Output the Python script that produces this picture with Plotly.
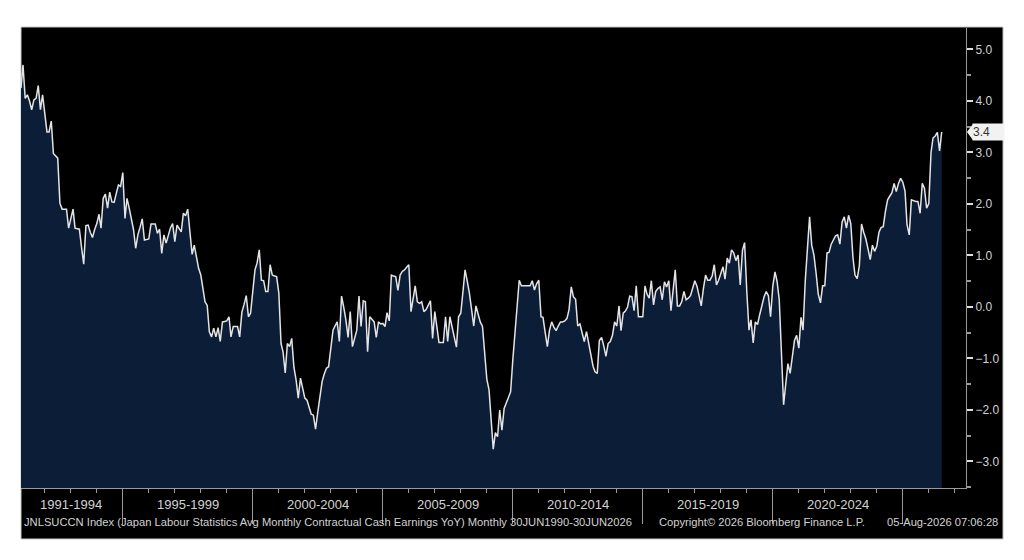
import pandas as pd
import plotly.graph_objects as go

# Japan contractual cash earnings YoY (%), monthly, Jan 1991 - Jun 2026
yoy_1991_1994 = [
    4.25, 4.70, 4.05, 4.12, 4.00, 3.83, 4.02, 4.05, 4.30, 3.83, 4.12, 3.75,
    3.40, 3.40, 3.61, 2.98, 2.93, 2.89, 2.01, 1.90, 1.90, 1.90, 1.53, 1.75,
    1.90, 1.53, 1.52, 1.51, 1.15, 0.83, 1.58, 1.59, 1.45, 1.35, 1.50, 1.62,
    1.80, 1.53, 2.11, 2.19, 1.92, 2.23, 2.04, 2.03, 2.20, 2.37, 2.34, 2.61,
]
yoy_1995_1999 = [
    1.72, 2.11, 1.92, 1.70, 1.50, 1.14, 1.40, 1.55, 1.71, 1.30, 1.31, 1.32,
    1.61, 1.61, 1.61, 1.43, 1.51, 1.04, 1.40, 1.24, 1.40, 1.54, 1.62, 1.27,
    1.59, 1.52, 1.46, 1.82, 1.77, 1.90, 1.45, 1.02, 1.20, 0.95, 0.75, 0.62,
    0.35, 0.10, 0.03, -0.48, -0.58, -0.41, -0.58, -0.40, -0.67, -0.29, -0.28, -0.27,
    -0.19, -0.58, -0.38, -0.38, -0.38, -0.58, -0.10, 0.05, 0.22, -0.19, -0.12, 0.30,
]
yoy_2000_2004 = [
    0.72, 0.85, 1.11, 0.52, 0.51, 0.30, 0.30, 0.82, 0.62, 0.60, 0.59, 0.27,
    -0.71, -0.87, -1.28, -0.71, -0.77, -0.61, -1.17, -1.42, -1.77, -1.38, -1.60, -1.77,
    -1.81, -1.95, -2.08, -2.10, -2.37, -2.05, -1.74, -1.45, -1.30, -1.19, -1.16, -0.80,
    -0.45, -0.37, -0.29, -0.67, 0.21, 0.00, -0.25, -0.59, -0.09, -0.77, -0.60, -0.45,
    0.21, -0.38, 0.12, 0.10, -0.87, -0.19, -0.24, -0.29, -0.59, -0.29, -0.33, -0.32,
]
yoy_2005_2009 = [
    -0.38, -0.11, -0.27, 0.62, 0.60, 0.59, 0.32, 0.62, 0.69, 0.72, 0.77, 0.82,
    -0.09, 0.15, 0.41, 0.10, 0.07, 0.10, -0.09, -0.05, 0.03, 0.12, -0.61, -0.09,
    -0.40, -0.69, -0.69, -0.69, -0.19, -0.67, -0.19, -0.40, -0.60, -0.78, -0.19, -0.12,
    0.30, 0.72, 0.50, 0.27, -0.05, -0.37, 0.02, -0.15, -0.29, -0.38, -0.90, -1.40,
    -1.61, -2.20, -2.76, -2.44, -2.52, -2.00, -2.39, -1.97, -1.87, -1.77, -1.65, -1.03,
]
yoy_2010_2014 = [
    -0.51, 0.10, 0.52, 0.41, 0.41, 0.41, 0.41, 0.41, 0.51, 0.33, 0.45, 0.52,
    -0.19, -0.20, -0.50, -0.77, -0.45, -0.29, -0.39, -0.46, -0.37, -0.29, -0.29, -0.27,
    -0.22, -0.05, 0.39, 0.20, 0.15, -0.37, -0.33, -0.50, -0.67, -0.48, -0.70, -0.90,
    -1.15, -1.26, -1.29, -0.65, -0.59, -0.75, -0.96, -0.71, -0.67, -0.55, -0.29, -0.37,
    0.02, -0.46, -0.12, -0.08, 0.00, 0.21, 0.20, -0.07, 0.41, -0.19, -0.19, -0.19,
]
yoy_2015_2019 = [
    0.41, 0.25, 0.17, 0.51, 0.04, 0.30, 0.36, 0.39, 0.14, 0.49, 0.39, 0.51,
    -0.07, 0.30, 0.72, 0.02, 0.02, 0.10, 0.30, 0.14, 0.17, 0.22, 0.35, 0.51,
    0.40, 0.20, 0.02, 0.35, 0.62, 0.52, 0.52, 0.60, 0.82, 0.43, 0.52, 0.65,
    0.78, 0.54, 0.95, 0.85, 1.11, 1.05, 0.90, 1.01, 0.43, 1.10, 1.25, 0.30,
    -0.45, -0.25, -0.70, -0.29, -0.34, -0.15, 0.06, 0.20, 0.30, 0.22, -0.19, 0.40,
]
yoy_2020_2024 = [
    0.68, 0.50, 0.14, -0.90, -1.90, -1.50, -1.10, -1.29, -0.95, -0.65, -0.55, -0.80,
    -0.20, -0.45, 0.50, 1.20, 1.75, 1.20, 1.01, 0.65, 0.25, 0.08, 0.41, 0.41,
    1.05, 1.06, 1.22, 1.30, 1.38, 1.40, 1.22, 1.65, 1.75, 1.53, 1.78, 1.62,
    0.95, 0.62, 0.55, 0.80, 1.61, 1.45, 1.32, 1.12, 0.92, 1.20, 1.08, 1.18,
    1.45, 1.54, 1.56, 1.85, 2.08, 2.15, 2.22, 2.40, 2.24, 2.40, 2.50, 2.42,
]
yoy_2025_2026 = [
    2.25, 1.60, 1.40, 2.08, 2.06, 2.05, 2.05, 1.82, 2.40, 2.30, 1.92, 2.01,
    3.00, 3.28, 3.32, 3.39, 3.03, 3.40,
]

period_labels = ["1991-1994", "1995-1999", "2000-2004", "2005-2009",
                 "2010-2014", "2015-2019", "2020-2024"]
period_centers = ["1993-01-01", "1997-07-01", "2002-07-01", "2007-07-01",
                  "2012-07-01", "2017-07-01", "2022-07-01"]
period_breaks = ["1995-01-01", "2000-01-01", "2005-01-01", "2010-01-01",
                 "2015-01-01", "2020-01-01", "2025-01-01"]
last_label = "3.4"

values = (yoy_1991_1994 + yoy_1995_1999 + yoy_2000_2004 + yoy_2005_2009
          + yoy_2010_2014 + yoy_2015_2019 + yoy_2020_2024 + yoy_2025_2026)
dates = pd.date_range("1991-01-31", periods=len(values), freq="ME")

y_min, y_max = -3.515, 5.417
x_start = pd.Timestamp("1991-01-31")
x_end = x_start + pd.Timedelta(days=945 / 26 * 365.25)
years = [f"{y}-01-01" for y in range(1992, 2028)]

TXT = "#d2d2d2"
AXIS = "#9a9a9a"
FONT = "Liberation Sans"
FOOT = 11.2

fig = go.Figure()
fig.add_trace(go.Scatter(x=dates, y=[y_min] * len(values), mode="lines",
                         line=dict(width=0), hoverinfo="skip", showlegend=False))
fig.add_trace(go.Scatter(x=dates, y=values, mode="lines", fill="tonexty",
                         fillcolor="#0c1d38", line=dict(color="#e4e4e4", width=1.5),
                         showlegend=False))

# page body has an 8px margin, so the figure is sized to fit inside it
fig.update_layout(
    width=1016, height=552,
    margin=dict(l=13, r=58, t=20, b=72),
    paper_bgcolor="white", plot_bgcolor="black",
    font=dict(family=FONT, color=TXT),
    xaxis=dict(
        type="date", range=[x_start, x_end], showgrid=False, zeroline=False,
        showline=True, linecolor=AXIS, linewidth=1,
        tickvals=period_breaks, ticks="outside", ticklen=35, tickcolor=AXIS,
        tickwidth=1, showticklabels=False,
        minor=dict(tickvals=years, ticks="outside", ticklen=4, tickcolor=AXIS),
    ),
    yaxis=dict(
        range=[y_min, y_max], side="right", showgrid=False, zeroline=False,
        showline=True, linecolor=AXIS, linewidth=1,
        tickvals=list(range(-3, 6)), tickformat=".1f", ticks="outside",
        ticklen=6, tickwidth=2, tickcolor="#dddddd",
        tickfont=dict(size=12, color=TXT, family=FONT),
        minor=dict(dtick=0.5, ticks="outside", ticklen=4, tickcolor=AXIS),
    ),
    shapes=[
        dict(type="rect", xref="paper", yref="paper", x0=0, x1=1.0392,
             y0=-0.1109, y1=1.0022, fillcolor="black",
             line=dict(color="#c8c8c8", width=1), layer="below"),
        dict(type="path", xref="paper", yref="y", xsizemode="pixel",
             ysizemode="pixel", xanchor=1.0063, yanchor=3.4,
             path="M 1,-8 L -5,0 L 1,8 Z", fillcolor="#f2f2f2",
             line=dict(width=0)),
    ],
)

for label, center in zip(period_labels, period_centers):
    fig.add_annotation(x=center, y=-0.0565, xref="x", yref="paper",
                       text=label, showarrow=False,
                       font=dict(size=13, color=TXT, family=FONT))

fig.add_annotation(x=1.0063, y=3.4, xref="paper", yref="y", xanchor="left",
                   text=last_label, showarrow=False, bgcolor="#f2f2f2",
                   width=31, height=16, align="left", borderpad=0,
                   font=dict(size=12, color="#333333", family=FONT))

footer_y = -0.0913
fig.add_annotation(x=0.001, y=footer_y, xref="paper", yref="paper", xanchor="left",
                   text="JNLSUCCN Index (Japan Labour Statistics Avg Monthly Contractual "
                        "Cash Earnings YoY) Monthly 30JUN1990-30JUN2026",
                   showarrow=False, font=dict(size=FOOT, color=TXT, family=FONT))
fig.add_annotation(x=(657 - 21) / 945, y=footer_y, xref="paper", yref="paper",
                   xanchor="left", text="Copyright\u00a9 2026 Bloomberg Finance L.P.",
                   showarrow=False, font=dict(size=FOOT, color=TXT, family=FONT))
fig.add_annotation(x=(1000 - 21) / 945, y=footer_y, xref="paper", yref="paper",
                   xanchor="right", text="05-Aug-2026 07:06:28",
                   showarrow=False, font=dict(size=FOOT, color=TXT, family=FONT))

fig.write_html("out.html")
